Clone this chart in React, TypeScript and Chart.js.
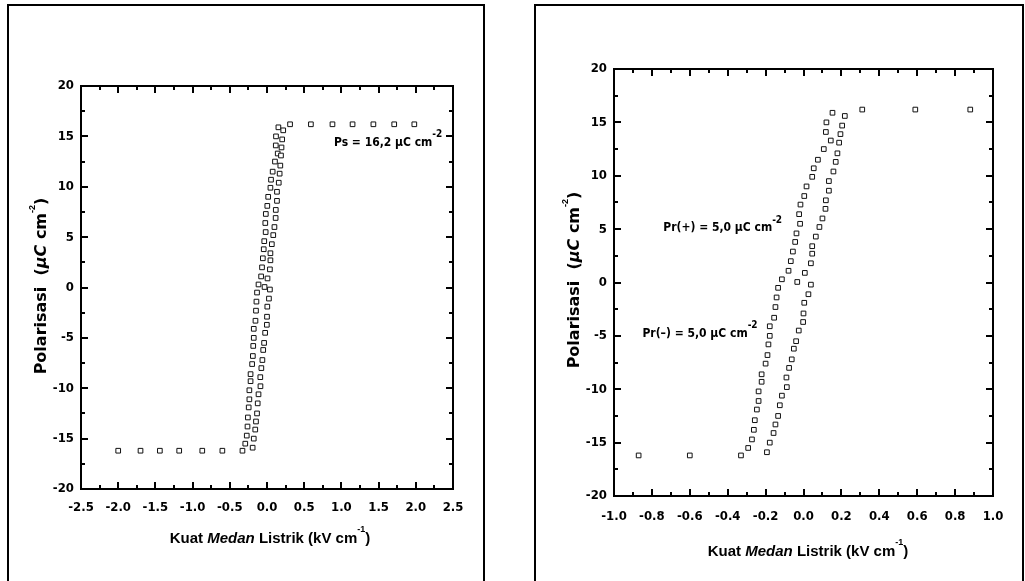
import React, { useEffect, useRef } from 'react';
import { Chart, registerables } from 'chart.js';
Chart.register(...registerables);

// Descending branch (left branch of the loop): field E (kV/cm), polarisation P (µC/cm²)
const descE = [0.153, 0.121, 0.118, 0.144, 0.107, 0.076, 0.054, 0.046, 0.016, 0.004, -0.016, -0.023, -0.018, -0.037, -0.044, -0.056, -0.067, -0.079, -0.114, -0.134, -0.142, -0.148, -0.155, -0.178, -0.178, -0.185, -0.19, -0.2, -0.221, -0.221, -0.237, -0.237, -0.246, -0.257, -0.262, -0.272, -0.292, -0.33];
const descP = [15.9, 15.0, 14.1, 13.3, 12.5, 11.5, 10.7, 9.9, 9.0, 8.1, 7.3, 6.4, 5.5, 4.6, 3.8, 2.9, 2.0, 1.1, 0.3, -0.5, -1.4, -2.3, -3.3, -4.1, -5.0, -5.8, -6.8, -7.6, -8.6, -9.3, -10.2, -11.1, -11.9, -12.9, -13.8, -14.7, -15.5, -16.2];
// Ascending branch (right branch of the loop)
const ascE = [-0.193, -0.178, -0.158, -0.148, -0.134, -0.125, -0.114, -0.088, -0.09, -0.076, -0.062, -0.051, -0.039, -0.025, -0.002, 0.0, 0.004, 0.026, 0.039, -0.033, 0.007, 0.039, 0.046, 0.046, 0.065, 0.084, 0.1, 0.116, 0.118, 0.134, 0.134, 0.158, 0.17, 0.179, 0.188, 0.195, 0.204, 0.218];
const ascP = [-15.9, -15.0, -14.1, -13.3, -12.5, -11.5, -10.6, -9.8, -8.9, -8.0, -7.2, -6.2, -5.5, -4.5, -3.7, -2.9, -1.9, -1.1, -0.2, 0.05, 0.9, 1.8, 2.7, 3.4, 4.3, 5.2, 6.0, 6.9, 7.7, 8.6, 9.5, 10.4, 11.3, 12.1, 13.1, 13.9, 14.7, 15.6];
// Saturation points
const satNegE = [-2.0, -1.7, -1.44, -1.18, -0.87, -0.6];
const satNegP = [-16.2, -16.2, -16.2, -16.2, -16.2, -16.2];
const satPosE = [0.31, 0.59, 0.88, 1.15, 1.43, 1.71, 1.98];
const satPosP = [16.2, 16.2, 16.2, 16.2, 16.2, 16.2, 16.2];

// Axis ranges / tick steps
const leftXRange = [-2.5, 2.5];
const leftXStep = 0.5;
const rightXRange = [-1.0, 1.0];
const rightXStep = 0.2;
const yRange = [-20, 20];
const yStep = 5;

// Annotation texts and anchors (data units)
const psLabel = { e: 0.9, p: 14.4, text: 'Ps = 16,2 \u03BCC cm', sup: '-2' };
const prPlusLabel = { e: -0.74, p: 5.1, text: 'Pr(+) = 5,0 \u03BCC cm', sup: '-2' };
const prMinusLabel = { e: -0.85, p: -4.8, text: 'Pr(\u2013) = 5,0 \u03BCC cm', sup: '-2' };

const NARROW = "'Liberation Sans Narrow', 'DejaVu Sans Condensed', 'Arial Narrow', sans-serif";
const TITLE = "'Liberation Sans', 'DejaVu Sans', sans-serif";
const YTITLE = "'DejaVu Sans', 'Liberation Sans', sans-serif";

type Part = { t: string; font: string; dy?: number };

function drawRich(ctx: CanvasRenderingContext2D, x: number, y: number, parts: Part[], align: 'left' | 'center') {
  let total = 0;
  for (const p of parts) { ctx.font = p.font; total += ctx.measureText(p.t).width; }
  let cx = align === 'center' ? x - total / 2 : x;
  ctx.textBaseline = 'middle';
  ctx.textAlign = 'left';
  for (const p of parts) {
    ctx.font = p.font;
    ctx.fillText(p.t, cx, y + (p.dy || 0));
    cx += ctx.measureText(p.t).width;
  }
}

function allPoints() {
  const pts: { x: number; y: number }[] = [];
  satNegE.forEach((e, i) => pts.push({ x: e, y: satNegP[i] }));
  descE.forEach((e, i) => pts.push({ x: e, y: descP[i] }));
  ascE.forEach((e, i) => pts.push({ x: e, y: ascP[i] }));
  satPosE.forEach((e, i) => pts.push({ x: e, y: satPosP[i] }));
  return pts;
}

type PanelCfg = {
  xRange: number[];
  xStep: number;
  padTop: number;
  padRight: number;
  yWidth: number;
  xHeight: number;
  box: number[];
  xTitle: number[];
  yTitle: number[];
  labels: { e: number; p: number; text: string; sup: string }[];
  xTickPad: number;
};

function makePlugin(cfg: PanelCfg) {
  return {
    id: 'deco',
    beforeDraw(chart: any) {
      const ctx = chart.ctx as CanvasRenderingContext2D;
      ctx.save();
      ctx.fillStyle = '#fff';
      ctx.fillRect(0, 0, chart.width, chart.height);
      ctx.strokeStyle = '#000';
      ctx.lineWidth = 2;
      const [bx, by, bw, bh] = cfg.box;
      ctx.strokeRect(bx, by, bw, bh);
      ctx.restore();
    },
    afterDraw(chart: any) {
      const ctx = chart.ctx as CanvasRenderingContext2D;
      const a = chart.chartArea;
      const xs = chart.scales.x;
      const ys = chart.scales.y;
      ctx.save();
      ctx.strokeStyle = '#000';
      ctx.fillStyle = '#000';
      ctx.lineWidth = 2;
      ctx.strokeRect(a.left, a.top, a.right - a.left, a.bottom - a.top);
      const MAJ = 7, MIN = 4;
      const xv = xs.ticks.map((t: any) => t.value);
      ctx.beginPath();
      xv.forEach((v: number, i: number) => {
        const px = Math.round(xs.getPixelForValue(v));
        ctx.moveTo(px, a.bottom); ctx.lineTo(px, a.bottom - MAJ);
        ctx.moveTo(px, a.top); ctx.lineTo(px, a.top + MAJ);
        if (i < xv.length - 1) {
          const m = Math.round(xs.getPixelForValue((v + xv[i + 1]) / 2));
          ctx.moveTo(m, a.bottom); ctx.lineTo(m, a.bottom - MIN);
          ctx.moveTo(m, a.top); ctx.lineTo(m, a.top + MIN);
        }
      });
      const yv = ys.ticks.map((t: any) => t.value);
      yv.forEach((v: number, i: number) => {
        const py = Math.round(ys.getPixelForValue(v));
        ctx.moveTo(a.left, py); ctx.lineTo(a.left + MAJ, py);
        ctx.moveTo(a.right, py); ctx.lineTo(a.right - MAJ, py);
        if (i < yv.length - 1) {
          const m = Math.round(ys.getPixelForValue((v + yv[i + 1]) / 2));
          ctx.moveTo(a.left, m); ctx.lineTo(a.left + MIN, m);
          ctx.moveTo(a.right, m); ctx.lineTo(a.right - MIN, m);
        }
      });
      ctx.stroke();

      // axis titles
      const tf = `bold 15px ${TITLE}`;
      const tfi = `italic bold 15px ${TITLE}`;
      const yf = `bold 16px ${YTITLE}`;
      const yfi = `italic bold 16px ${YTITLE}`;
      const sf = `bold 9px ${TITLE}`;
      drawRich(ctx, cfg.xTitle[0], cfg.xTitle[1], [
        { t: 'Kuat ', font: tf },
        { t: 'Medan', font: tfi },
        { t: ' Listrik (kV cm', font: tf },
        { t: '-1', font: sf, dy: -9 },
        { t: ')', font: tf },
      ], 'center');
      ctx.save();
      ctx.translate(cfg.yTitle[0], cfg.yTitle[1]);
      ctx.rotate(-Math.PI / 2);
      drawRich(ctx, 0, 0, [
        { t: 'Polarisasi  (', font: yf },
        { t: '\u03BCC', font: yfi },
        { t: ' cm', font: yf },
        { t: '-2', font: sf, dy: -9 },
        { t: ')', font: yf },
      ], 'center');
      ctx.restore();

      // annotations
      const af = `bold 12px ${NARROW}`;
      const asf = `bold 10px ${NARROW}`;
      cfg.labels.forEach((l) => {
        drawRich(ctx, xs.getPixelForValue(l.e), ys.getPixelForValue(l.p), [
          { t: l.text, font: af },
          { t: l.sup, font: asf, dy: -8 },
        ], 'left');
      });
      ctx.restore();
    },
  };
}

function Panel({ cfg, left, width }: { cfg: PanelCfg; left: number; width: number }) {
  const ref = useRef<HTMLCanvasElement>(null);
  useEffect(() => {
    const data = allPoints().filter((p) => p.x >= cfg.xRange[0] && p.x <= cfg.xRange[1]);
    const tickFont = { family: NARROW, size: 13, weight: 'bold' as const };
    const chart = new Chart(ref.current as HTMLCanvasElement, {
      type: 'scatter',
      data: {
        datasets: [{
          data,
          pointStyle: 'rect',
          pointRadius: 3.3,
          pointBorderWidth: 1,
          pointBorderColor: '#111',
          pointBackgroundColor: '#fff',
          showLine: false,
        }],
      },
      options: {
        animation: false,
        responsive: false,
        events: [],
        layout: { padding: { top: cfg.padTop, right: cfg.padRight, left: 0, bottom: 0 } },
        plugins: { legend: { display: false }, tooltip: { enabled: false } },
        scales: {
          x: {
            type: 'linear',
            min: cfg.xRange[0],
            max: cfg.xRange[1],
            grid: { display: false, drawTicks: false },
            border: { display: false },
            afterFit: (s: any) => { s.height = cfg.xHeight; },
            ticks: {
              stepSize: cfg.xStep,
              autoSkip: false,
              maxRotation: 0,
              padding: cfg.xTickPad,
              color: '#000',
              font: tickFont,
              callback: (v: any) => (Math.abs(Number(v)) < 1e-9 ? 0 : Number(v)).toFixed(1),
            },
          },
          y: {
            type: 'linear',
            min: yRange[0],
            max: yRange[1],
            grid: { display: false, drawTicks: false },
            border: { display: false },
            afterFit: (s: any) => { s.width = cfg.yWidth; },
            ticks: {
              stepSize: yStep,
              padding: 7,
              color: '#000',
              font: tickFont,
              callback: (v: any) => String(Math.round(Number(v))),
            },
          },
        },
      },
      plugins: [makePlugin(cfg)],
    } as any);
    return () => chart.destroy();
  }, []);
  return (
    <canvas
      ref={ref}
      width={width}
      height={581}
      style={{ position: 'absolute', left, top: 0, width, height: 581 }}
    />
  );
}

const leftCfg: PanelCfg = {
  xRange: leftXRange,
  xStep: leftXStep,
  padTop: 86,
  padRight: 57,
  yWidth: 81,
  xHeight: 92,
  box: [8, 5, 476, 700],
  xTitle: [270, 539],
  yTitle: [42, 286],
  labels: [psLabel],
  xTickPad: 11,
};

const rightCfg: PanelCfg = {
  xRange: rightXRange,
  xStep: rightXStep,
  padTop: 69,
  padRight: 32,
  yWidth: 104,
  xHeight: 85,
  box: [25, 5, 488, 700],
  xTitle: [298, 552],
  yTitle: [65, 280],
  labels: [prPlusLabel, prMinusLabel],
  xTickPad: 13,
};

export default function App() {
  return (
    <div style={{ position: 'fixed', left: 0, top: 0, width: 1025, height: 581, background: '#fff', overflow: 'hidden' }}>
      <Panel cfg={leftCfg} left={0} width={510} />
      <Panel cfg={rightCfg} left={510} width={515} />
    </div>
  );
}
